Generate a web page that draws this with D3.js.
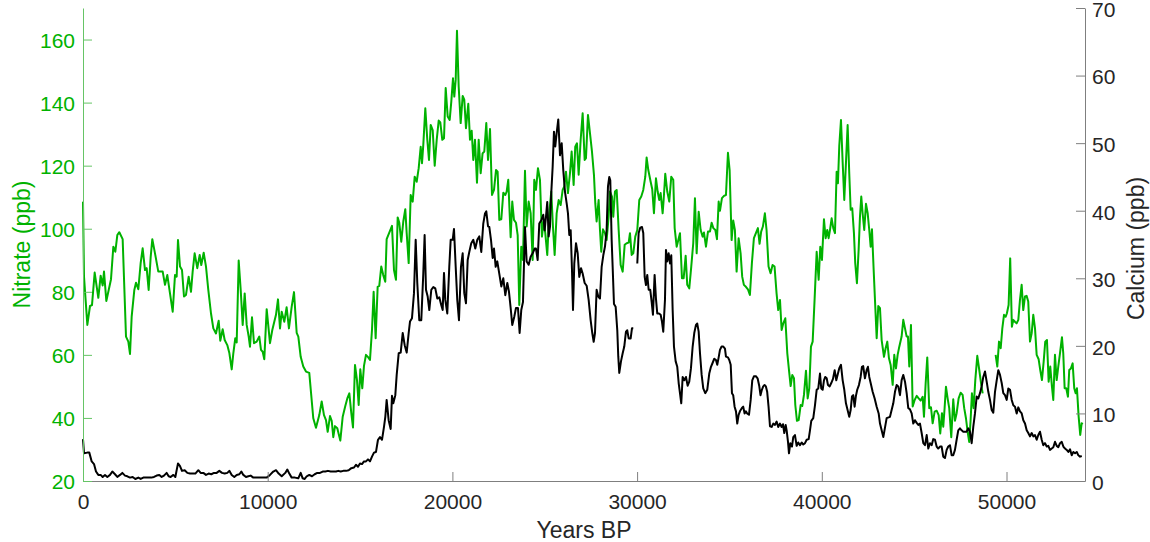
<!DOCTYPE html>
<html>
<head>
<meta charset="utf-8">
<script src="https://cdn.jsdelivr.net/npm/d3@7"></script>
<style>
  body { margin: 0; background: #fff; }
  svg { display: block; font-family: "Liberation Sans", Arial, Helvetica, sans-serif; }
</style>
</head>
<body>
<svg id="chart" width="1150" height="542"></svg>
<script>
// Nitrate (left axis), years BP; null marks a gap in the record
const nitrateYears = [0,54,235,379,487,632,829,956,1065,1137,1263,1516,1642,1750,1858,1967,2147,2328,2454,2545,2635,2779,2869,2995,3122,3230,3357,3447,3555,3665,3753,3898,4077,4315,4440,4565,4710,4856,4981,5072,5143,5252,5360,5468,5576,5721,5847,5937,6045,6188,6318,6404,6534,6659,6784,6929,7056,7200,7346,7432,7563,7671,7812,7920,8051,8137,8245,8321,8429,8538,8646,8754,8862,8971,9041,9150,9258,9403,9545,9637,9729,9816,9945,10124,10249,10449,10557,10666,10758,10898,
  11025,11150,11299,11424,11569,11658,11786,11927,12073,12251,12468,12614,12793,12923,13048,13156,13248,13373,13465,13552,13643,13768,13931,14061,14201,14310,14419,14527,14618,14726,14834,14926,15013,15121,15213,15321,15446,15538,15646,15736,15845,15953,16040,16148,16256,16365,16440,16583,16729,16837,16945,17037,17124,17232,17341,17449,17525,17633,17741,17850,17958,18066,18175,18283,18354,18424,18533,18641,18733,18825,18933,19042,19150,19258,19345,19453,19545,19637,19745,19853,19940,20032,20103,20178,20248,20340,20448,20556,20643,20735,20860,20952,21044,21131,21223,21331,21423,21531,
  21634,21727,21835,21928,22036,22144,22252,22361,22448,22540,22648,22756,22865,22937,23024,23154,23241,23333,23442,23534,23620,23729,23821,23930,24020,24129,24237,24345,24432,24524,24633,24741,24849,24940,25028,25136,25244,25352,25444,25536,25645,25753,25861,25970,26057,26149,26257,26366,26456,26564,26651,26744,26836,26944,27052,27161,27231,27340,27448,27556,27664,27736,27808,27917,27990,28060,28152,28261,28350,28459,28530,28640,28710,28802,28894,29002,29110,29219,29327,29435,29543,29614,29706,29793,29901,30010,30118,30226,30334,30443,30515,30604,30734,30820,30912,31021,31113,31199,31275,31383,31437,31525,31633,31741,31850,31958,32034,32142,32321,
  32429,32520,32629,32715,32824,32932,33040,33132,33224,33333,33441,33549,33620,33729,33837,33945,34036,34128,34236,34324,34416,34486,34594,34703,34811,34919,35009,35117,35203,35295,35388,35496,35604,35690,35782,35890,35999,36107,36215,36324,36432,36540,36630,36717,36810,36918,37009,37117,37226,37334,37442,37551,37640,37736,37825,37915,38024,38132,38240,38313,38401,38493,38565,38655,38748,38856,38943,39034,39143,39235,39322,39413,39505,39613,39722,39830,39917,40009,40117,40207,40294,40370,40443,40533,40621,40713,40803,40874,40946,41038,41130,41217,41307,41399,41486,41562,41648,41740,41810,41902,41994,42066,42137,42210,42298,42392,42484,42570,42645,42716,42808,42895,42971,43058,43150,43240,
  43366,43456,43545,43637,43728,43837,43924,44016,44106,44195,44321,44412,44504,44594,44665,44736,44828,44920,45028,45137,45245,45353,45461,45532,45623,45710,45818,45910,46002,46110,46218,46327,46413,46506,46576,46649,46722,46812,46899,47009,47117,47209,47300,47408,47516,47624,47711,47805,47895,47981,48056,48128,48220,48310,48418,48526,48634,48710,49000,
  49412,49502,49594,49686,49773,49865,49956,50022,50114,50200,50292,50366,50456,50548,50640,50728,50820,50907,50999,51088,51177,51272,51362,51450,51543,51633,51741,51827,51919,52011,52098,52190,52282,52369,52461,52533,52624,52716,52803,52895,53003,53073,53148,53235,53327,53397,53489,53581,53668,53744,53814,53906,53992,54068,54138];
const nitrateValues = [108.6,84.8,69.5,75.5,75.8,86.1,78.1,85.1,82,86.4,77.1,84,94.3,92.7,98,98.9,96.7,65.8,64.2,60.3,72.1,80.6,82.9,80.8,89.1,93.8,86.9,87.5,80.6,91.1,96.7,92.2,86.4,86.4,82.2,85.3,79.5,73.7,85.3,84.8,96.4,88,86.9,78.5,79,84.8,80,86.4,92.2,87.5,91.7,88.5,92.4,88,80.6,73.2,68.4,66.8,70.8,64.5,68.1,64.7,63.1,60.7,55.4,60.4,65.3,63.9,89.9,80.6,69.5,79.5,69.5,65.8,62.6,71.9,63.7,64.2,65.8,61.6,61,58.6,74.5,63.7,67.9,72.7,77.6,68.4,73.7,70.5,
  75.1,68.4,75.3,79.9,67,65.8,59.4,56.3,54.7,54.3,39.9,36.9,40.9,45.2,40.9,39.3,35.6,40.6,39.1,33.9,37.4,36.7,32.8,40.4,43.8,46.2,47.8,41.5,37,56.8,52,44.1,55.4,49.4,56.5,60,59.2,58.4,67.9,80,65.3,81.6,81.9,88,85.3,83.2,96.7,98.8,100.9,86.9,83.8,103.6,101.9,95.9,102.3,106.2,98.6,89.1,110.7,108.6,116.5,114.9,119.2,126,120.8,126.6,138.2,128.2,121.8,132.9,131.3,120,128.2,134.3,133.7,128.2,128.7,144.6,135.6,134.5,140.3,147.7,141.9,147.2,162.8,145.1,133.5,142.1,140.9,131.9,139.6,128.2,131.1,121.8,128.2,114.6,128.2,117.6,
  123.9,124.5,133.5,121.8,131.6,110.7,112.3,118.6,118.1,102.8,103,111.4,110.7,111.8,115.5,97.3,108.6,102.8,101.9,98,75.8,94.3,90.1,118.4,100.7,108.6,104.9,90.1,115.5,112.3,119.2,115.5,97.5,102.3,98.6,91.7,104.9,111.8,100.7,91.7,104.9,109.1,107.5,112.3,113.4,118.1,111.3,117.6,124.5,113.9,126,127.1,117.1,128.2,136.6,121.8,122.4,136.1,130.3,124.5,117.1,108.1,102.3,109.1,99.6,92.7,99.8,98.6,96.4,103.8,111.8,110.2,103.8,111.8,112.3,99.6,88.5,86.4,94.9,95.4,95.6,98.6,91.7,92.2,97.5,99.6,109.1,110.2,112.3,116.5,122.6,118.7,114.9,112.5,104.9,116,111.8,109.1,111.3,104.9,109.1,117.4,111.8,108.6,116.5,115.5,100.2,94.3,98.6,
  84.3,84.3,91.4,82.2,81.1,88,95.4,109.7,92.2,105.4,99.6,97.5,98.8,94.3,99.1,99.1,101.9,100.2,99.6,96.7,108.6,105.7,109.7,110.4,110.7,124.1,118.6,96.4,102.6,99.6,86.4,97,92.2,84.8,82.2,81.6,80.8,79,89.1,97,98.6,100.2,95.2,99.1,100.7,104.9,99.6,88,85.9,88.5,88,79.5,74.2,77.4,67.9,70,71.6,60.5,54.2,50.1,53.6,52.6,44.1,39.1,39.3,44.1,43.8,47.3,55,46.2,49.4,62.6,64.2,78,92.7,83.8,94.3,90.1,103,97,99.6,97,99.6,103.3,100.2,98.6,118.1,114.4,126.3,134.5,121,109.1,120.8,132.9,117.6,106,106.5,98.6,89.1,82.7,93.3,103.8,110.2,104.9,99.6,107.9,104.9,99.6,94.3,99.8,86.9,75.3,65.3,75.5,74.8,64.7,
  59.4,62.1,64.2,58.9,56.8,50.5,60,55.7,60,62.6,65.8,71.1,68.4,65.8,65.8,56.3,69.5,43.6,45.7,47,46.2,45.5,46.7,40.4,51,59.2,43.1,43.4,38.3,42,42.3,40.9,35.1,41.5,37.2,43.1,49.9,46.2,43.1,33.9,45.9,39.1,41.5,46.2,48,47.3,43.1,39.9,35.6,32.4,39.3,47.8,43.1,52,59.7,55.2,50.5,47.8,null,
  60,56.3,64.2,62.1,68.4,72.7,72.1,73.2,75.8,90.6,68.9,71.1,70.5,70,71.1,77.4,82.2,74.2,78.5,78.7,76.9,64.2,66.8,72.7,68.4,60,58.6,55.2,52,57.8,64.2,64.7,51.5,56.3,49.9,45.7,60,52,56.3,60.5,65.6,60.5,49.4,49.4,46.7,55.2,55.7,57.3,49.4,47.8,49.4,40.4,34.6,38.3,38.1];

// Calcium (right axis)
const calciumYears = [0,54,233,341,471,596,704,829,956,1065,1191,1317,1462,1588,1733,1858,2003,2129,2274,2400,2545,2689,2833,2995,3122,3266,3411,3555,3700,3844,3989,4133,4259,4385,4530,4638,4746,4891,4999,5143,5252,5360,5505,5649,5793,5938,6082,6244,6370,6514,6659,6803,6947,7092,7236,7381,7526,7671,7815,7923,8051,8192,8321,8465,8573,8681,8825,8951,9077,9222,9403,9583,9763,9945,10124,10303,10449,10594,10758,
  10952,11061,11169,11299,11478,11656,11786,11894,12003,12111,12251,12398,12544,12685,12831,12977,13118,13264,13410,13552,13697,13822,13952,14093,14239,14385,14527,14672,14780,14888,14997,15105,15213,15321,15430,15538,15646,15754,15863,15971,16079,16188,16296,16368,16440,16548,16657,16729,16800,16909,16984,17092,17200,17309,17417,17525,17633,17704,17812,17920,18012,18099,18207,18315,18424,18496,18570,18662,18749,18858,18966,19074,19183,19291,19399,19474,19545,19615,19723,19831,19907,20015,20086,20178,20264,20356,20464,20556,20643,20735,20827,20914,21022,21131,21239,21347,21455,21564,
  21672,21765,21835,21928,21997,22089,22181,22252,22343,22430,22538,22648,22756,22865,22973,23063,23154,23241,23350,23442,23550,23640,23729,23821,23930,24020,24129,24237,24345,24453,24524,24616,24704,24812,24920,24995,25066,25136,25212,25283,25352,25428,25499,25570,25645,25732,25825,25917,26003,26096,26187,26257,26329,26404,26475,26529,26600,26692,26783,26870,26962,27052,27161,27269,27377,27485,27573,27649,27720,27808,27898,27990,28081,28170,28261,28350,28423,28494,28548,28622,28676,28748,28838,28927,28981,29035,29127,29219,29305,29397,29468,29543,29651,29722,29793,29900,
  30010,30084,30172,30264,30334,30410,30480,30550,30626,30712,30788,30858,30948,31021,31091,31184,31275,31346,31416,31509,31563,31633,31709,31780,31850,31925,31996,32088,32174,32251,
  32321,32391,32466,32555,32646,32738,32824,32916,33008,33095,33187,33257,33333,33405,33495,33582,33690,33798,33907,33999,34091,34178,34270,34340,34416,34486,34576,34667,34757,34811,34919,34990,35067,35136,35203,35279,35353,35422,35496,35582,35675,35745,35820,35890,35960,36057,36149,36235,36324,36432,36524,36611,36681,36756,36828,36901,36973,37043,37117,37194,37283,37372,37466,37554,37640,37736,37825,37898,37969,38044,38097,38170,38223,38296,38385,38455,38547,38639,38726,38818,38910,38997,39089,39181,39289,39360,39430,39538,39630,39722,39809,39901,39971,40047,40117,40187,40264,40334,40426,40513,40605,40697,40784,40874,40946,41038,41130,41217,41307,41416,41486,41562,41633,41702,41777,41847,41918,42010,42102,42173,42242,42335,42426,42498,42570,42645,42753,42862,42971,43079,
  43150,43330,43511,43691,43870,43962,44053,44140,44232,44321,44412,44504,44594,44681,44773,44865,44952,45044,45137,45224,45316,45406,45495,45587,45679,45766,45858,45948,46035,46127,46218,46305,46397,46489,46576,46668,46760,46847,46939,47031,47117,47209,47300,47388,47480,47570,47659,47751,47843,47930,48022,48114,48201,48293,48385,48472,48564,48656,48743,48835,48927,49014,49106,49198,49285,49377,49469,49556,49648,49740,49827,49919,50011,50098,50190,50282,50369,50460,50552,50639,50731,50823,50910,51002,51093,51180,51272,51364,51451,51543,51635,51722,51814,51906,51993,52085,52177,52264,52356,52448,52535,52627,52719,52806,52898,52990,53077,53169,53261,53348,53440,53532,53619,53711,53803,53890,53982,54074];
const calciumValues = [6.2,4.1,4.2,4.2,2.9,2.5,1.4,0.9,0.9,0.6,0.9,0.6,0.9,1.4,1,0.6,0.9,1.2,0.8,0.7,0.5,0.6,0.3,0.5,0.3,0.5,0.5,0.5,0.5,0.6,0.8,0.9,0.6,0.8,1.2,0.7,0.6,0.9,0.6,2.6,2.2,1.5,1.6,1.2,1.1,1.1,1.1,1.6,1.2,1.2,0.9,1.1,1,1.2,1.2,1.5,1.2,1.1,1.2,1.5,0.9,0.6,0.9,1,1.4,0.9,0.6,0.7,0.8,0.5,0.5,0.5,0.5,0.5,0.9,1.4,1.6,1.1,0.7,
  1.2,1.7,1.1,0.5,0.5,0.4,1.2,0.4,0.3,0.7,0.9,0.7,1,1.2,1.2,1.4,1.4,1.5,1.4,1.4,1.4,1.5,1.4,1.5,1.5,1.6,1.9,2,2.4,2.1,2.6,2.5,2.9,2.9,3.2,2.9,3.6,4.2,4.3,6.1,6.5,6.1,8,9.5,12,9,7.7,12.6,11.5,12.7,15.7,18.9,19,21.9,20.1,19,21.9,23.6,24.1,27.8,35.7,29.3,23.8,23.8,30.7,36.4,28.3,27.3,25.3,28.3,28.7,28.5,27,27.2,26,25.3,30.8,26.8,24.8,31.7,35.7,35.7,37.3,31.7,26.8,23.8,31.7,33.7,27.8,26.3,32.7,33.9,35.2,35.7,34.4,35.7,36.2,33.9,
  38.1,39.6,39.9,37.7,37.6,35.7,33,34.4,31.7,32.5,30.7,28.8,30,27.5,29.3,28,25.6,23.1,24.3,25.6,25.6,21.9,25.3,26.5,37.6,32.5,32,33.2,33.7,34.4,34.4,32.7,38.1,38.6,39.4,37.1,39.1,41.3,36.2,37.6,42.6,46.5,51.7,49.5,51.5,53.5,48.2,50,46,42.8,41.1,39.6,36.4,37.1,31.2,25.3,32.2,35.2,33.7,30.2,31.5,30.7,29.3,28.9,26.8,23.8,21.9,20.6,21.9,28.3,27.3,27,31.7,33.4,34.7,37.1,43.6,45,44.5,35.7,31.7,26.2,25.8,22.3,18.4,16,17.7,18.9,19.9,22.1,22.3,21.1,21.1,22.6,22.6,null,
  32.2,36.7,37.5,37.6,36.7,30.2,29,30.5,28.3,28.3,26.5,24.6,30.5,27,24.8,24.8,24.6,23.6,22.1,26.8,34.2,32.5,33.7,32.2,33.4,25.3,19.9,17.7,16.9,14.5,
  13,11.5,15.4,14.9,15.4,14.1,14.7,16.7,19.9,21.9,23.1,23.3,22.1,18.9,15.7,13.7,13,13.5,15.9,16.9,17.5,18.1,17.9,17.2,18.3,19.4,19.9,19.9,19.6,18.4,18.3,17.9,17.2,13,12.7,11,10.3,8.5,9.8,10.4,10.8,11,10,10.3,10,9.8,12,14.9,15.5,15.5,15.2,14.1,12.7,13.5,14,14.2,14,13.2,11,8.1,8,8.5,8.3,8.8,8,8.5,8,8.4,7.1,8.3,7.5,5.8,4.1,5.6,5.1,6.5,6.8,5.2,5.7,5.3,5.7,5.4,5.6,6.1,6.2,7.5,8.9,9.3,11.2,13.5,13.7,15.9,13.7,13.5,14.9,15.4,15.2,14.2,14,14.5,15.1,16.4,14.9,15.9,16.7,17.2,14.9,13.5,11.5,10.3,9.5,10.5,12.5,12.7,11,12.6,13.5,14.2,15.4,16.9,17,15.2,16.4,16.9,15.4,14.5,13.2,12.2,11,10,
  8.5,6.5,9.3,9.5,11.5,13.2,14.2,14,12.7,14.9,15.7,14.7,13,10.8,10.6,10,8.5,9,8.6,8.3,8.5,7.1,5.6,5.3,6.8,4.8,5.6,5.3,6.2,6.1,5.1,4.8,5.1,5.1,3.6,3.4,4.6,5.1,5.3,3.8,3.8,4.6,6.1,7.5,7.8,7.5,7.3,7.3,7.3,7.8,7.3,5.6,8,10,12.5,12.2,13,14,15.4,16.2,14.7,13.2,12,10.5,10.1,13.2,14.9,16.4,15.7,14.5,13,12.7,12,13.7,13.5,12,11.2,11,10,10.9,10.3,10,9,8.5,7.5,7.1,6.6,7.1,6.6,6.8,6.1,6.8,7.3,6.1,5.3,5.6,5.1,5.2,4.6,4.8,5,5.8,5.2,5,5.6,5.8,5.1,4.8,4.6,4.3,4.7,3.8,4.3,4.1,4.3,3.8,3.6,3.7];

const xTicks = [0, 10000, 20000, 30000, 40000, 50000];
const nitrateTicks = [20, 40, 60, 80, 100, 120, 140, 160];
const calciumTicks = [0, 10, 20, 30, 40, 50, 60, 70];

const GREEN = '#00b200';
const margin = {top: 8, right: 65, bottom: 61, left: 83};
const width = 1150, height = 542;

const svg = d3.select('#chart');
const x = d3.scaleLinear().domain([0, 54250]).range([margin.left, width - margin.right]);
const yL = d3.scaleLinear().domain([20, 170]).range([height - margin.bottom, margin.top]);
const yR = d3.scaleLinear().domain([0, 70]).range([height - margin.bottom, margin.top]);

const nitrate = nitrateYears.map((yr, i) => ({yr, v: nitrateValues[i]}));
const calcium = calciumYears.map((yr, i) => ({yr, v: calciumValues[i]}));

svg.append('path')
  .datum(nitrate)
  .attr('fill', 'none')
  .attr('stroke', GREEN)
  .attr('stroke-width', 2)
  .attr('stroke-linejoin', 'round')
  .attr('d', d3.line().defined(d => d.v != null).x(d => x(d.yr)).y(d => yL(d.v)));

svg.append('path')
  .datum(calcium)
  .attr('fill', 'none')
  .attr('stroke', '#000')
  .attr('stroke-width', 2)
  .attr('stroke-linejoin', 'round')
  .attr('d', d3.line().defined(d => d.v != null).x(d => x(d.yr)).y(d => yR(d.v)));

// axes, ticks pointing inward like the original
const xAxis = svg.append('g')
  .attr('transform', `translate(0,${height - margin.bottom})`)
  .call(d3.axisBottom(x).tickValues(xTicks).tickFormat(d3.format('d')).tickSize(-9).tickSizeOuter(0).tickPadding(13));
xAxis.selectAll('path, line').attr('stroke', '#7f7f7f');
xAxis.selectAll('text').attr('fill', '#262626').style('font-size', '21px');

const leftAxis = svg.append('g')
  .attr('transform', `translate(${margin.left},0)`)
  .call(d3.axisLeft(yL).tickValues(nitrateTicks).tickSize(-9).tickSizeOuter(0).tickPadding(8));
leftAxis.selectAll('path, line').attr('stroke', '#66c466');
leftAxis.selectAll('text').attr('fill', GREEN).attr('dy', '0.38em').style('font-size', '21px');

const rightAxis = svg.append('g')
  .attr('transform', `translate(${width - margin.right},0)`)
  .call(d3.axisRight(yR).tickValues(calciumTicks).tickSize(-9).tickSizeOuter(0).tickPadding(7));
rightAxis.selectAll('path, line').attr('stroke', '#7f7f7f');
rightAxis.selectAll('text').attr('fill', '#262626').attr('dy', '0.4em').style('font-size', '21px');

svg.selectAll('.domain').attr('stroke-width', 1);

svg.append('text')
  .attr('x', (margin.left + width - margin.right) / 2)
  .attr('y', 538)
  .attr('text-anchor', 'middle')
  .attr('fill', '#262626')
  .style('font-size', '23px')
  .text('Years BP');

svg.append('text')
  .attr('transform', `translate(30,${(margin.top + height - margin.bottom) / 2}) rotate(-90)`)
  .attr('text-anchor', 'middle')
  .attr('fill', GREEN)
  .style('font-size', '23px')
  .text('Nitrate (ppb)');

svg.append('text')
  .attr('transform', `translate(1144,${(margin.top + height - margin.bottom) / 2 + 4}) rotate(-90)`)
  .attr('text-anchor', 'middle')
  .attr('fill', '#262626')
  .style('font-size', '23px')
  .text('Calcium (ppb)');
</script>
</body>
</html>
